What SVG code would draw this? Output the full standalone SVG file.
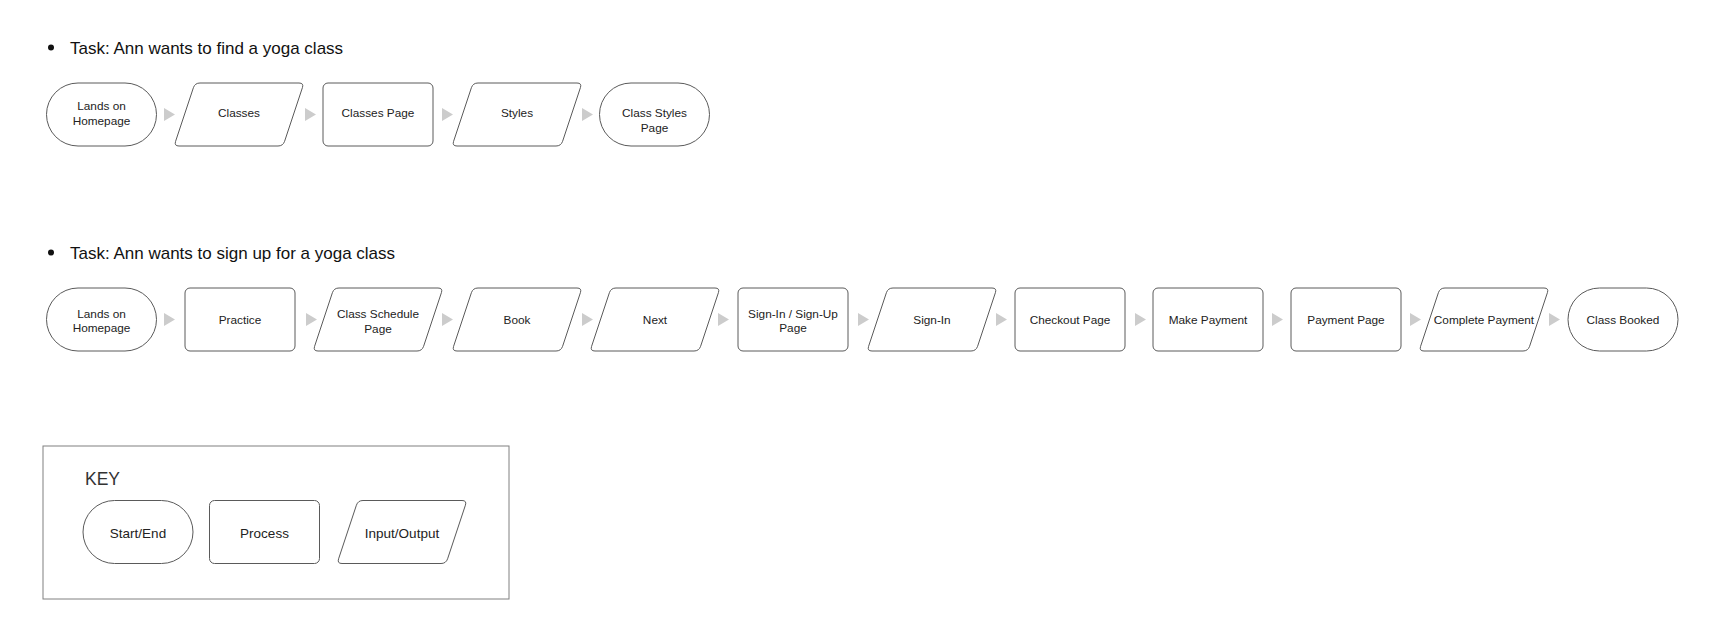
<svg xmlns="http://www.w3.org/2000/svg" xmlns:xlink="http://www.w3.org/1999/xlink" width="1720" height="641" viewBox="0 0 1720 641">
<style>
  .shape { fill: #ffffff; stroke: #5a5a5a; stroke-width: 1; }
  .lbl { font-family: "Liberation Sans", Arial, sans-serif; font-size: 11.8px; fill: #222222; text-anchor: middle; }
  .klbl { font-family: "Liberation Sans", Arial, sans-serif; font-size: 13.5px; fill: #222222; text-anchor: middle; }
  .title { font-family: "Liberation Sans", Arial, sans-serif; font-size: 17px; fill: #111111; }
  .key { font-family: "Liberation Sans", Arial, sans-serif; font-size: 17.5px; fill: #333333; }
  .arr { fill: #cccccc; }
  .keybox { fill: none; stroke: #808080; stroke-width: 1; }
</style>
<defs>
  <path id="arrow" d="M0,-6.5 L11,0 L0,6.5 Z"/>
  <rect id="term" width="110" height="63" rx="31.5" ry="31.5"/>
  <rect id="proc" width="110" height="63" rx="5" ry="5"/>
  <path id="para" d="M26,0 L125,0 Q130,0 128.4,4.7 L110.6,58.3 Q109,63 104,63 L5,63 Q0,63 1.6,58.3 L19.4,4.7 Q21,0 26,0 Z"/>
</defs>
<rect width="1720" height="641" fill="#ffffff"/>

<g id="title1">
  <circle cx="51" cy="47.5" r="3" fill="#111111"/>
  <text class="title" x="70" y="54">Task: Ann wants to find a yoga class</text>
</g>
<g id="title2">
  <circle cx="51" cy="252.5" r="3" fill="#111111"/>
  <text class="title" x="70" y="259">Task: Ann wants to sign up for a yoga class</text>
</g>

<!-- Row 1 -->
<g id="r1-lands">
  <use href="#term" x="46.5" y="83" class="shape"/>
  <text class="lbl" x="101.5" y="110">Lands on</text>
  <text class="lbl" x="101.5" y="125">Homepage</text>
</g>
<g id="r1-classes">
  <use href="#para" x="174" y="83" class="shape"/>
  <text class="lbl" x="239" y="116.5">Classes</text>
</g>
<g id="r1-classespage">
  <use href="#proc" x="323" y="83" class="shape"/>
  <text class="lbl" x="378" y="116.5">Classes Page</text>
</g>
<g id="r1-styles">
  <use href="#para" x="452" y="83" class="shape"/>
  <text class="lbl" x="517" y="116.5">Styles</text>
</g>
<g id="r1-classstyles">
  <use href="#term" x="599.5" y="83" class="shape"/>
  <text class="lbl" x="654.5" y="116.5">Class Styles</text>
  <text class="lbl" x="654.5" y="131.5">Page</text>
</g>

<!-- Row 2 -->
<g id="r2-lands">
  <use href="#term" x="46.5" y="288" class="shape"/>
  <text class="lbl" x="101.5" y="317.5">Lands on</text>
  <text class="lbl" x="101.5" y="332">Homepage</text>
</g>
<g id="r2-practice">
  <use href="#proc" x="185" y="288" class="shape"/>
  <text class="lbl" x="240" y="323.5">Practice</text>
</g>
<g id="r2-schedule">
  <use href="#para" x="313" y="288" class="shape"/>
  <text class="lbl" x="378" y="318">Class Schedule</text>
  <text class="lbl" x="378" y="332.5">Page</text>
</g>
<g id="r2-book">
  <use href="#para" x="452" y="288" class="shape"/>
  <text class="lbl" x="517" y="323.5">Book</text>
</g>
<g id="r2-next">
  <use href="#para" x="590" y="288" class="shape"/>
  <text class="lbl" x="655" y="323.5">Next</text>
</g>
<g id="r2-signinup">
  <use href="#proc" x="738" y="288" class="shape"/>
  <text class="lbl" x="793" y="317.5">Sign-In / Sign-Up</text>
  <text class="lbl" x="793" y="332">Page</text>
</g>
<g id="r2-signin">
  <use href="#para" x="867" y="288" class="shape"/>
  <text class="lbl" x="932" y="323.5">Sign-In</text>
</g>
<g id="r2-checkout">
  <use href="#proc" x="1015" y="288" class="shape"/>
  <text class="lbl" x="1070" y="323.5">Checkout Page</text>
</g>
<g id="r2-makepayment">
  <use href="#proc" x="1153" y="288" class="shape"/>
  <text class="lbl" x="1208" y="323.5">Make Payment</text>
</g>
<g id="r2-paymentpage">
  <use href="#proc" x="1291" y="288" class="shape"/>
  <text class="lbl" x="1346" y="323.5">Payment Page</text>
</g>
<g id="r2-completepayment">
  <use href="#para" x="1419" y="288" class="shape"/>
  <text class="lbl" x="1484" y="323.5">Complete Payment</text>
</g>
<g id="r2-booked">
  <use href="#term" x="1568" y="288" class="shape"/>
  <text class="lbl" x="1623" y="323.5">Class Booked</text>
</g>

<g id="connectors">
  <use href="#arrow" class="arr" x="164" y="114.5"/>
  <use href="#arrow" class="arr" x="305" y="114.5"/>
  <use href="#arrow" class="arr" x="442" y="114.5"/>
  <use href="#arrow" class="arr" x="582" y="114.5"/>

  <use href="#arrow" class="arr" x="164" y="319.5"/>
  <use href="#arrow" class="arr" x="306" y="319.5"/>
  <use href="#arrow" class="arr" x="442" y="319.5"/>
  <use href="#arrow" class="arr" x="582" y="319.5"/>
  <use href="#arrow" class="arr" x="718" y="319.5"/>
  <use href="#arrow" class="arr" x="858" y="319.5"/>
  <use href="#arrow" class="arr" x="996" y="319.5"/>
  <use href="#arrow" class="arr" x="1135" y="319.5"/>
  <use href="#arrow" class="arr" x="1272" y="319.5"/>
  <use href="#arrow" class="arr" x="1410" y="319.5"/>
  <use href="#arrow" class="arr" x="1549" y="319.5"/>
</g>

<g id="key">
  <rect class="keybox" x="43" y="446" width="466" height="153"/>
  <text class="key" x="85" y="485">KEY</text>
  <g id="key-startend">
    <use href="#term" x="83" y="500.5" class="shape"/>
    <text class="klbl" x="138" y="538">Start/End</text>
  </g>
  <g id="key-process">
    <use href="#proc" x="209.5" y="500.5" class="shape"/>
    <text class="klbl" x="264.5" y="538">Process</text>
  </g>
  <g id="key-io">
    <use href="#para" x="337" y="500.5" class="shape"/>
    <text class="klbl" x="402" y="538">Input/Output</text>
  </g>
</g>
</svg>
